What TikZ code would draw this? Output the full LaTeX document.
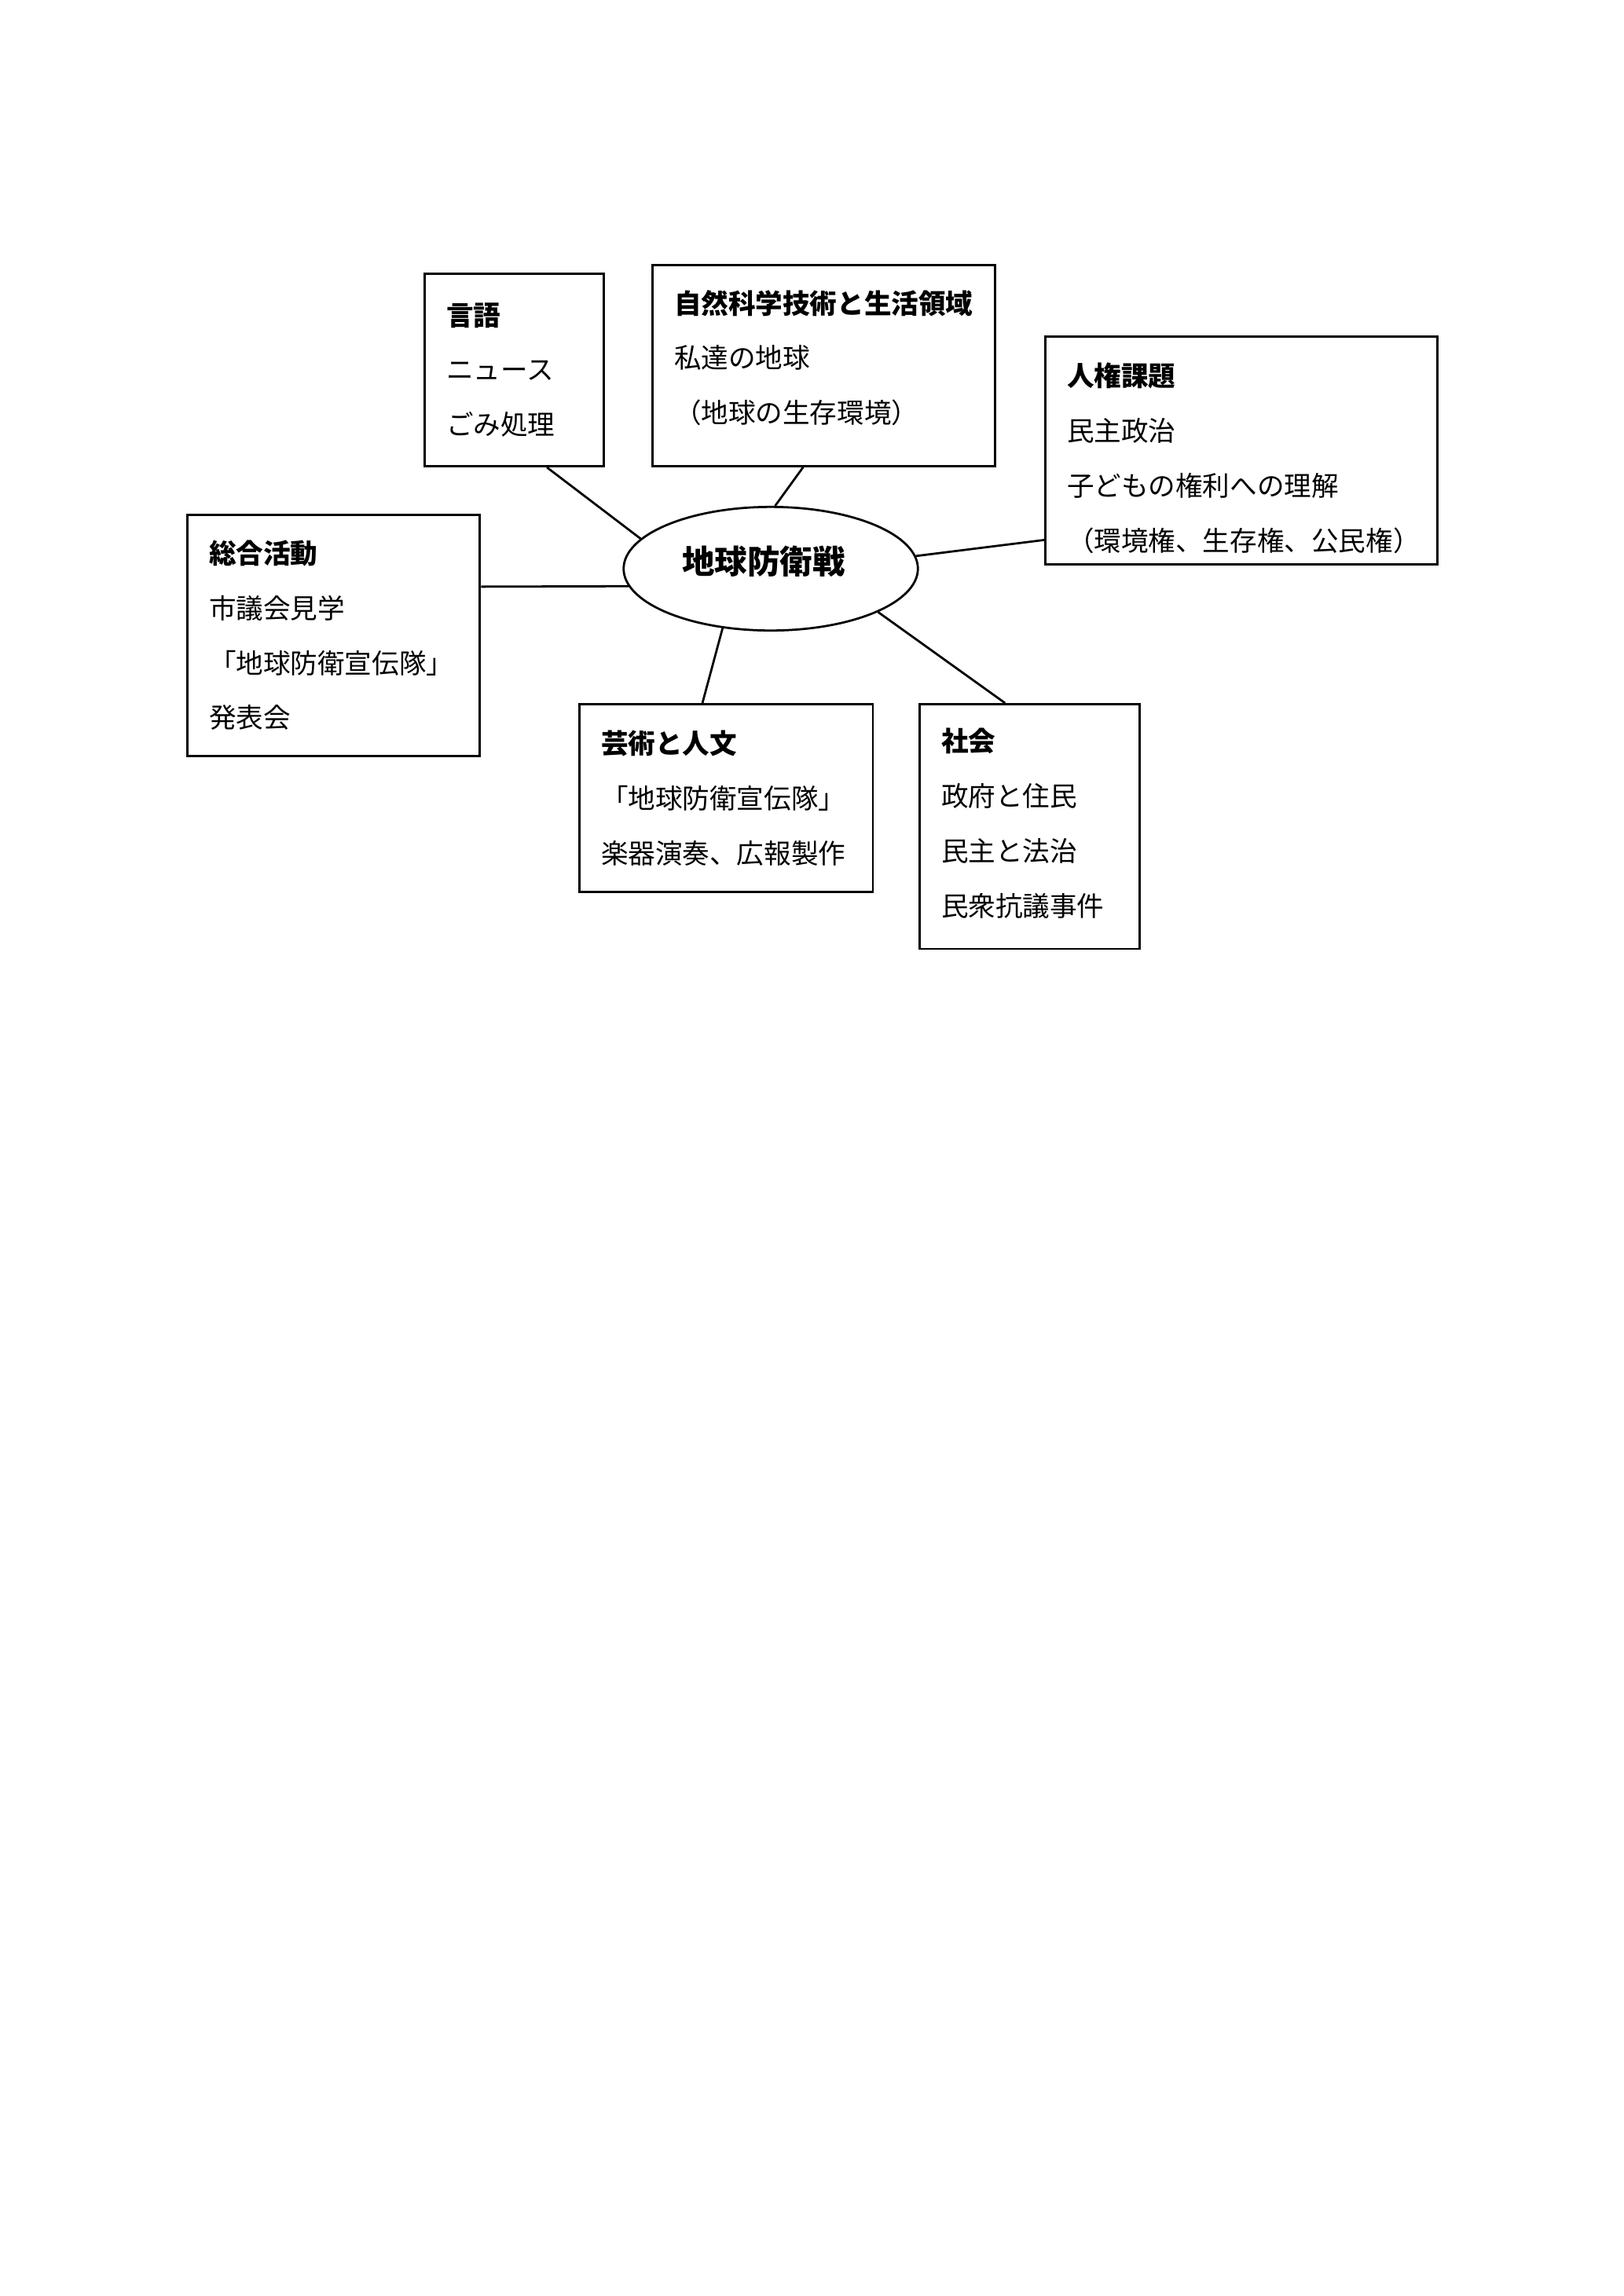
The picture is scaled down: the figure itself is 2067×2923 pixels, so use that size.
\documentclass[tikz,border=0pt]{standalone}
\usepackage{fontspec}
\setmainfont{Noto Sans CJK JP}
\usetikzlibrary{shapes.geometric,calc}

\begin{document}
\begin{tikzpicture}[x=0.01016cm,y=-0.01016cm,
  box/.style={draw,line width=0.8pt,anchor=north west,align=left,inner xsep=8pt,inner ysep=0pt,
    font=\fontsize{10}{20.2}\selectfont},
  core/.style={draw,ellipse,line width=0.8pt,inner sep=0pt,font=\fontsize{12}{14}\selectfont\bfseries},
  link/.style={line width=0.8pt}]
  \useasboundingbox (0,0) rectangle (2067,2923);

  \node[core,minimum width=108.3pt,minimum height=45.5pt,text depth=6.6pt] (core) at (981,724)
    {地球防衛戦\hspace*{5.2pt}};

  \node[box,text width=50pt,minimum height=70.9pt] (gengo) at (539,347)
    {\textbf{言語}\\ニュース\\ごみ処理};
  \node[box,text width=110.2pt,minimum height=74pt] (shizen) at (829,336)
    {\textbf{自然科学技術と生活領域}\\私達の地球\\（地球の生存環境）\rule[-6.6pt]{0pt}{6.6pt}};
  \node[box,text width=128.3pt,minimum height=83.8pt] (jinken) at (1329,427)
    {\rule{0pt}{14.2pt}\textbf{人権課題}\\民主政治\\子どもの権利への理解\\（環境権、生存権、公民権）};
  \node[box,text width=91.7pt,minimum height=88.7pt] (sogo) at (237,654)
    {\textbf{総合活動}\\市議会見学\\「地球防衛宣伝隊」\\発表会};
  \node[box,text width=92pt,minimum height=69.1pt] (geijutsu) at (736,895)
    {\textbf{芸術と人文}\\「地球防衛宣伝隊」\\楽器演奏、広報製作};
  \node[box,text width=64.9pt,minimum height=90.1pt] (shakai) at (1169,895)
    {\rule[-3pt]{0pt}{3pt}\textbf{社会}\\政府と住民\\民主と法治\\民衆抗議事件\rule[-3.2pt]{0pt}{3.2pt}};

  \draw[link] ($(gengo.south west)!0.68!(gengo.south east)$) -- (core.167);
  \draw[link] ($(shizen.south west)!0.44!(shizen.south east)$) -- (core.86);
  \draw[link] ($(jinken.north west)!0.89!(jinken.south west)$) -- (core.5);
  \draw[link] ($(sogo.north east)!0.30!(sogo.south east)$) -- (core.187);
  \draw[link] ($(geijutsu.north west)!0.42!(geijutsu.north east)$) -- (core.231);
  \draw[link] ($(shakai.north west)!0.39!(shakai.north east)$) -- (core.338);
\end{tikzpicture}
\end{document}
